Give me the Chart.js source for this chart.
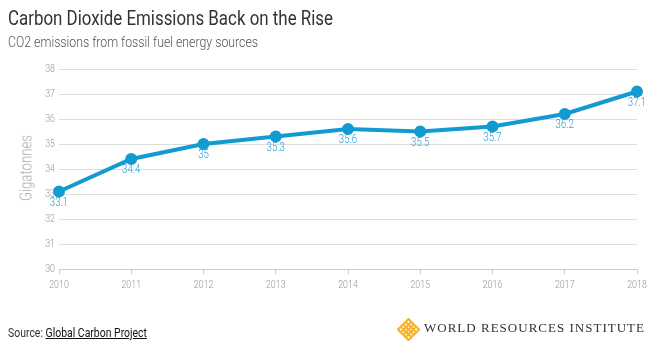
<!DOCTYPE html>
<html><head><meta charset="utf-8">
<script src="https://cdn.jsdelivr.net/npm/chart.js@4/dist/chart.umd.min.js"></script>
<style>
html,body{margin:0;padding:0;background:#fff;width:667px;height:357px;overflow:hidden;}
#wrap{position:relative;width:667px;height:357px;}
canvas{position:absolute;left:0;top:0;}
.t{position:absolute;white-space:nowrap;font-family:"Roboto",sans-serif;transform-origin:0 0;}
#title{left:8px;top:6px;font-size:21px;color:#333;}
#sub{left:8px;top:33px;font-size:15px;color:#555;font-weight:300;}
#ytitle{font-size:17px;color:#aaa;font-weight:300;}
#src{left:8px;top:325px;font-size:13px;color:#333;}
#src u{color:#111;}
#wri{left:424px;top:320px;font-family:"Liberation Serif","DejaVu Serif",serif;font-size:13px;color:#333;}
#logo{position:absolute;left:397px;top:318px;}
</style></head>
<body><div id="wrap">
<canvas id="c" width="667" height="357"></canvas>
<div class="t" id="title">Carbon Dioxide Emissions Back on the Rise</div>
<div class="t" id="sub">CO2 emissions from fossil fuel energy sources</div>
<div class="t" id="ytitle">Gigatonnes</div>
<div class="t" id="src">Source: <u>Global Carbon Project</u></div>
<svg id="logo" width="23" height="23" viewBox="0 0 24 24">
<g stroke="#f6b12a" stroke-width="2.2" fill="none">
<path d="M12 1 L23 12 L12 23 L1 12 Z"/>
<path d="M6.5 6.5 L17.5 17.5 M6.5 17.5 L17.5 6.5 M9 4 L20 15 M4 9 L15 20 M15 4 L4 15 M20 9 L9 20"/>
</g></svg>
<div class="t" id="wri">WORLD RESOURCES INSTITUTE</div>
</div>
<script>
const years = ["2010","2011","2012","2013","2014","2015","2016","2017","2018"];
const emissions = [33.1,34.4,35,35.3,35.6,35.5,35.7,36.2,37.1];
const pointLabels = ["33.1","34.4","35","35.3","35.6","35.5","35.7","36.2","37.1"];
const yTicks = [30,31,32,33,34,35,36,37,38];
const yMin = 30, yMax = 38;

function fitW(id, w){
  const el = document.getElementById(id);
  const r = el.getBoundingClientRect();
  el.style.transform = 'scaleX(' + (w / r.width) + ')';
}
fitW('title', 325);
fitW('sub', 250);
fitW('src', 139);
(function(){
  const el = document.getElementById('wri');
  const w0 = el.getBoundingClientRect().width;
  el.style.letterSpacing = ((221 - w0) / 25) + 'px';
  const yt = document.getElementById('ytitle');
  const r = yt.getBoundingClientRect();
  const sx = 66 / r.width;
  yt.style.transformOrigin = '50% 50%';
  yt.style.left = (25 - r.width/2) + 'px';
  yt.style.top = (168 - r.height/2) + 'px';
  yt.style.transform = 'rotate(-90deg) scaleX(' + sx + ')';
})();

const NARROW = 0.8;
const FONT = '"Roboto",sans-serif';

const labelPlugin = {
  id:'pl',
  afterDraw(chart){
    const ctx = chart.ctx;
    const xs = chart.scales.x, ys = chart.scales.y;
    ctx.save();
    ctx.font = '300 11px ' + FONT;
    ctx.fillStyle = '#999';
    ctx.textBaseline = 'middle';
    ctx.textAlign = 'right';
    yTicks.forEach(v=>{
      const y = ys.getPixelForValue(v);
      ctx.save(); ctx.translate(55, y); ctx.scale(NARROW,1);
      ctx.fillText(String(v), 0, 0); ctx.restore();
    });
    ctx.textAlign = 'center';
    ctx.textBaseline = 'top';
    years.forEach((yr,i)=>{
      const x = xs.getPixelForValue(i);
      ctx.save(); ctx.translate(x, xs.top + 11); ctx.scale(NARROW,1);
      ctx.fillText(yr, 0, 0); ctx.restore();
    });
    const meta = chart.getDatasetMeta(0);
    ctx.font = '300 12px ' + FONT;
    ctx.fillStyle = '#239fd4';
    meta.data.forEach((p,i)=>{
      ctx.save(); ctx.translate(p.x, p.y + 5); ctx.scale(NARROW,1);
      ctx.fillText(pointLabels[i], 0, 0); ctx.restore();
    });
    ctx.restore();
  }
};

new Chart(document.getElementById('c'), {
  type:'line',
  data:{labels:years, datasets:[{
    data:emissions, borderColor:'#129bd0', backgroundColor:'#129bd0',
    borderWidth:4, pointRadius:4, pointHoverRadius:4, tension:0, fill:false
  }]},
  options:{
    responsive:false, animation:false, devicePixelRatio:1,
    events:[],
    layout:{padding:{left:14,right:30,top:69,bottom:0}},
    plugins:{legend:{display:false}, tooltip:{enabled:false}},
    scales:{
      x:{
        afterFit(s){ s.height = 88; },
        offset:false,
        grid:{display:true, drawOnChartArea:false, drawTicks:true, tickLength:5, color:'#ccc'},
        border:{display:true, color:'#ccc', width:1},
        ticks:{display:false, autoSkip:false, maxRotation:0}
      },
      y:{
        min:yMin, max:yMax,
        afterFit(s){ s.width = 45; },
        grid:{color:'#ddd', drawTicks:false, lineWidth:1},
        border:{display:false},
        ticks:{display:false, stepSize:1}
      }
    }
  },
  plugins:[labelPlugin]
});
</script>
</body></html>
